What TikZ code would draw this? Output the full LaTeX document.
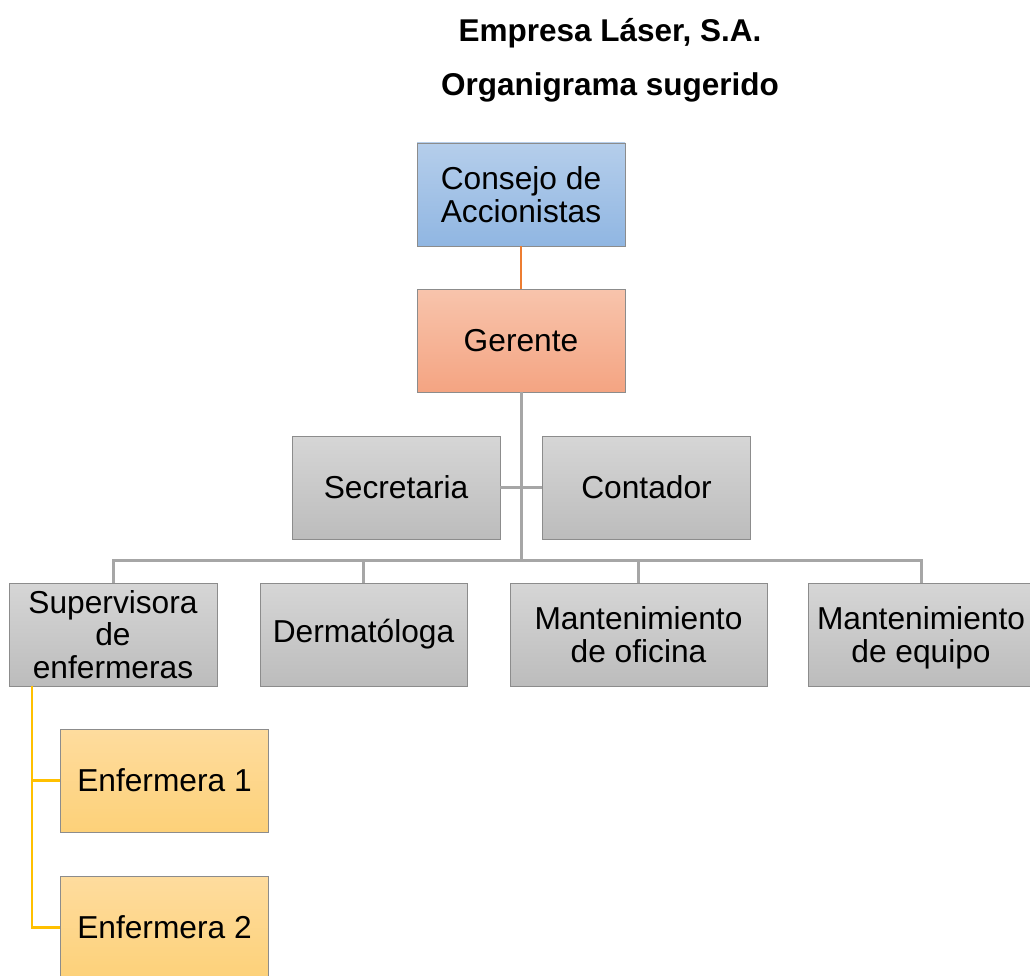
\documentclass[tikz,border=0pt]{standalone}
\usepackage{fontspec}
\setmainfont{Liberation Sans}
\begin{document}
\begin{tikzpicture}[x=1pt,y=-1pt,
  box/.style={draw=black!45, line width=0.8pt, minimum width=208, minimum height=103,
    align=center, inner sep=2pt, font=\fontsize{31.7}{32.5}\selectfont},
  bluebox/.style={box, top color=blue0, bottom color=blue1},
  salmonbox/.style={box, top color=sal0, bottom color=sal1},
  graybox/.style={box, top color=gray0, bottom color=gray1},
  yelbox/.style={box, top color=yel0, bottom color=yel1},
  grayline/.style={draw=conngray, line width=3pt},
  orangeline/.style={draw=connorange, line width=2pt},
  yelline/.style={draw=connyel, line width=2.5pt},
  title/.style={font=\bfseries\fontsize{31.5}{34}\selectfont}]
\definecolor{blue0}{HTML}{B5CEEB}
\definecolor{blue1}{HTML}{90B6E2}
\definecolor{sal0}{HTML}{F8C4AC}
\definecolor{sal1}{HTML}{F4A482}
\definecolor{gray0}{HTML}{D6D6D6}
\definecolor{gray1}{HTML}{BCBCBC}
\definecolor{yel0}{HTML}{FEDC9E}
\definecolor{yel1}{HTML}{FDD179}
\definecolor{conngray}{HTML}{A6A6A6}
\definecolor{connorange}{HTML}{ED7D31}
\definecolor{connyel}{HTML}{FFC000}
\useasboundingbox (0,0) rectangle (1030,976);
\fill[white] (0,0) rectangle (1030,976);

\node[title] (t1) at (610,33) {Empresa Láser, S.A.};
\node[title] (t2) at (610,87) {Organigrama sugerido};

\coordinate (bus) at (521,560);
\coordinate (ytop) at (32,686);

\node[bluebox] (cons) at (521,194.5) {Consejo de\\Accionistas};
\node[salmonbox] (ger) at (521,340.5) {Gerente};
\node[graybox] (sec) at (396,487.5) {Secretaria};
\node[graybox] (con) at (646.5,487.5) {Contador};
\node[graybox] (sup) at (113,634.5) {Supervisora\\de\\enfermeras};
\node[graybox, minimum width=207] (der) at (363.5,634.5) {Dermatóloga};
\node[graybox, minimum width=257] (ofi) at (638.5,634.5) {Mantenimiento\\de oficina};
\node[graybox, minimum width=226] (equ) at (921,634.5) {Mantenimiento\\\smash{de equipo}};
\node[yelbox] (e1) at (164.5,780.5) {Enfermera 1};
\node[yelbox] (e2) at (164.5,927.5) {Enfermera 2};

\draw[orangeline] (cons.south) -- (ger.north);
\draw[grayline] (ger.south) -- (bus);
\draw[grayline] (sec.east) -- (con.west);
\draw[grayline] (sup.north) |- (bus);
\draw[grayline] (equ.north) |- (bus);
\draw[grayline] (der.north) -- (der.north |- bus);
\draw[grayline] (ofi.north) -- (ofi.north |- bus);
\draw[yelline] (ytop) |- (e2.west);
\draw[yelline] (ytop |- e1.west) -- (e1.west);
\end{tikzpicture}
\end{document}
